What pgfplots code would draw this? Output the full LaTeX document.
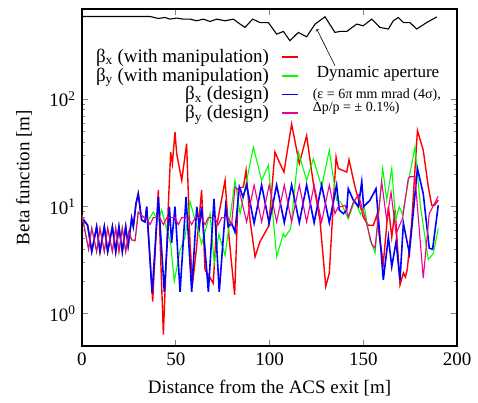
\documentclass[border=0pt]{standalone}
\usepackage{fontspec}
\setmainfont{Liberation Serif}
\usepackage{pgfplots}
\pgfplotsset{compat=1.18}

\begin{document}
\fontsize{19}{22}\selectfont
\begin{tikzpicture}
\useasboundingbox (-82pt,-56pt) rectangle (396pt,346pt);
\begin{axis}[
    at={(0,0)}, anchor=south west,
    scale only axis,
    width=375pt, height=337pt,
    ymode=log,
    xmin=0, xmax=200, ymin=0.5, ymax=700,
    xtick={0,50,100,150,200},
    xticklabels={0,50,100,150,200},
    ytick={1,10,100},
    yticklabels={10\textsuperscript{0},10\textsuperscript{1},10\textsuperscript{2}},
    tick align=inside,
    major tick length=6pt, minor tick length=3pt,
    axis line style={line width=1.1pt},
    major tick style={line width=0.8pt},
    minor tick style={line width=0.8pt},
    every tick label/.append style={font=\fontsize{19}{19}\selectfont},
    xlabel={Distance from the ACS exit [m]},
    ylabel={Beta function [m]},
    xlabel style={at={(axis description cs:0.5,-0.125)}, anchor=center, font=\fontsize{19}{19}\selectfont},
    ylabel style={at={(axis description cs:-0.155,0.5)}, anchor=center, font=\fontsize{19}{19}\selectfont},
    legend plot pos=right,
    legend cell align=right,
    legend image code/.code={\draw[#1, line width=1.5pt] (0pt,0pt) -- (16pt,0pt);},
    legend style={at={(0.578,0.888)}, anchor=north east, draw=none, fill=none,
        font=\fontsize{19}{19}\selectfont, row sep=-1.5pt, column sep=10pt, inner sep=0pt},
]
% beta_x with manipulation
\addplot[red, line width=1.4pt] coordinates {
(0,7.6)(0.7,7.6)(3.0,6.7)(5.2,3.8)(7.8,6.5)(9.6,3.8)(11.9,6.5)(13.7,3.8)(16.2,6.5)
(18.0,3.8)(19.7,6.5)(21.5,3.8)(23.3,6.5)(24.6,4.3)(26.5,7.8)(27.4,6.5)(28.8,10.7)
(30.0,13.2)(31.8,7.5)(33.6,7.2)(34.5,10)(37.7,1.3)(40.7,14.3)(43.4,0.64)(46.0,10)
(47.3,32.3)(48.2,25.2)(49.6,49.6)(50.5,31.2)(53.2,17.6)(55.8,38.7)(57.6,4.54)(59.0,1.93)
(61.0,4.0)(63.8,14.3)(65.6,2.57)(67.4,2.3)(70.0,1.93)(71.8,6.5)(76.3,17.6)(78.5,5.0)
(81.4,1.5)(83.4,14.7)(86.1,15.3)(87.5,21.8)(89.6,7.5)(92.3,3.4)(94.9,4.7)(99.4,6.5)
(100.5,10)(102.9,32.3)(105.6,25.2)(107.7,21)(111.8,59)(115.9,25.2)(119.8,46)(123.4,16.4)
(126.9,7.5)(130.0,1.8)(131.9,2.39)(133.7,8.6)(135.5,29)(136.7,22.7)(141.2,21)(142.4,27.4)
(145.6,15.3)(150.0,8.0)(152.7,6.7)(155.4,6.7)(157.2,8.3)(158.6,5.24)(160.7,2.96)(163.4,10)
(165.2,5.2)(167.0,9.3)(169.6,1.86)(171.4,2.4)(172.5,2.2)(173.5,2.6)(175.8,7.0)(178.9,51.5)
(182.0,33.6)(184.7,15.3)(186.5,10.3)(188.0,10.3)(190.0,11.5)
};
\addlegendentry{β\textsubscript{x} (with manipulation)}
% beta_y with manipulation
\addplot[green, line width=1.1pt] coordinates {
(0,8.3)(3.5,4.0)(5.2,6.3)(7.8,3.8)(9.6,6.3)(11.9,3.8)(13.7,6.3)(16.2,3.8)(18.0,6.3)
(19.7,3.8)(21.5,6.3)(23.3,3.8)(25.0,5.8)(26.5,4.9)(28.3,4.8)(30.0,8.9)(32.7,8.0)
(35.4,7.5)(38.0,8.9)(40.5,7.5)(42.5,9.3)(44.8,6.5)(47.3,4.5)(49.2,2.0)(52.3,3.9)
(55.0,5.24)(57.6,11.2)(60.3,7.5)(63.8,4.5)(68.3,8.6)(70.5,3.0)(73.0,5.5)(76.3,3.5)
(81.6,17.6)(84.3,8.6)(91.4,36)(95.8,17.6)(99.4,24.3)(103.8,3.4)(107.4,5.6)(108.3,5.2)
(111.3,6.25)(115.4,32.3)(119.8,17.6)(123.4,28)(127.8,15.3)(131.9,33.6)(135.8,11.5)(138.0,11)
(142.0,7.7)(145.6,11.5)(148.5,8.5)(150.5,10)(153.6,4.9)(156.3,3.7)(160.4,22.7)(162.5,11.5)
(165.2,22.7)(167.3,7.5)(169.2,10)(171.0,8.5)(174.0,17.1)(177.6,36)(180.5,10)(184.7,3.2)
(187.4,3.67)(190.0,6.25)
};
\addlegendentry{β\textsubscript{y} (with manipulation)}
% beta_x design
\addplot[blue, line width=1.6pt] coordinates {
(0,7.6)(0.7,7.6)(3.0,6.7)(5.2,3.8)(7.8,6.5)(9.6,3.8)(11.9,6.5)(13.7,3.8)(16.2,6.5)
(18.0,3.8)(19.7,6.5)(21.5,3.8)(23.3,6.5)(24.6,4.3)(26.5,7.8)(27.4,6.5)(28.8,10.7)
(30.0,13.2)(31.8,7.5)(33.6,7.2)(34.5,10)(37.4,1.56)(40.7,12.3)(43.9,1.6)(46.6,10)
(47.8,4.6)(49.6,10)(52.3,1.6)(55.5,12.3)(58.5,1.6)(61.2,10)(62.6,6.5)(63.8,10)
(67.4,1.6)(70.4,11.8)(73.2,1.6)(76.6,10)(78.0,6.5)(79.8,7.0)(81.6,5.8)(83.9,15.3)
(85.9,12.3)(87.8,15.9)(91.8,7.0)(95.8,15.9)(99.8,7.0)(103.8,15.9)(107.9,7.1)(111.8,15.9)
(115.9,7.1)(119.8,15.9)(123.8,7.1)(127.8,15.9)(131.9,7.1)(135.8,15.9)(137.2,9.3)(139.4,8.6)
(141.2,9.3)(142.0,14.7)(144.7,11.5)(147.4,10)(149.2,17.1)(150.2,10)(151.8,10.7)(153.6,11.5)
(156.8,14.7)(158.6,6.0)(160.7,2.07)(163.4,5.2)(165.2,2.75)(167.5,4.7)(169.6,2.07)(171.4,7.0)
(174.6,3.67)(178.9,22.7)(182.0,13.2)(185.2,4.1)(187.0,4.0)(190.0,10.3)
};
\addlegendentry{β\textsubscript{x} (design)}
% beta_y design
\addplot[magenta, line width=1.1pt] coordinates {
(0,8.3)(3.5,4.0)(5.2,6.3)(7.8,3.8)(9.6,6.3)(11.9,3.8)(13.7,6.3)(16.2,3.8)(18.0,6.3)
(19.7,3.8)(21.5,6.3)(23.3,3.8)(25.0,5.8)(26.5,4.9)(28.3,4.8)(30.0,8.9)(32.7,8.0)
(34.5,7.8)(36.3,6.8)(38.0,7.9)(41.5,7.9)(43.4,6.8)(45.2,7.9)(49.5,7.9)(51.4,6.8)
(53.2,7.9)(56.6,7.9)(58.5,6.8)(60.3,7.9)(63.7,7.9)(65.6,6.8)(67.4,7.9)(70.8,7.9)
(72.7,6.8)(74.5,7.9)(77.9,7.9)(79.8,6.8)(81.6,15.3)(83.9,14.0)(87.8,7.2)(91.8,15.9)
(95.8,7.2)(99.8,15.9)(103.8,7.2)(107.9,15.9)(111.8,7.2)(115.9,15.9)(119.8,7.2)(123.8,15.9)
(127.8,7.2)(131.9,15.9)(134.9,8.6)(136.7,10)(138.5,10)(140.3,10.3)(142.0,8.0)(144.7,11)
(147.4,12.8)(150.5,8.5)(154.5,4.5)(156.3,4.1)(159.8,17.1)(162.5,7.5)(164.8,13.7)(167.5,5.6)
(171.0,7.8)(174.0,18.3)(174.9,19)(177.6,19)(182.0,2.15)(185.2,8.6)(190.0,12.5)
};
\addlegendentry{β\textsubscript{y} (design)}
% dynamic aperture
\addplot[black, line width=1.1pt, forget plot] coordinates {
(0,596)(36.3,596)(40.7,571)(44.3,583)(46.9,563)(50.5,576)(54,563)(57.6,563)
(61.2,543)(64.7,563)(68.3,535)(71.8,563)(76.3,543)(80.7,563)(84.3,506)(86.9,471)
(91,563)(94.9,523)(99.4,523)(103.8,408)(107.4,432)(110.9,354)(115.4,423)(119.8,385)
(124.3,506)(129.6,592)(134.9,423)(137.6,432)(141.2,432)(146.5,506)(150,488)(154.5,563)
(158.9,471)(163.4,455)(166,543)(168.7,583)(171.4,523)(174.9,523)(178.5,455)(183.8,523)
(189.2,590)
};
\draw[->, line width=0.6pt] (axis cs:134.9,207) -- (axis cs:125.2,455);
\node[anchor=west, inner sep=0pt, font=\fontsize{17}{17}\selectfont] at (axis cs:125.2,175) {Dynamic aperture};
\node[anchor=west, inner sep=0pt, font=\fontsize{14}{14}\selectfont] at (axis cs:123,109) {(ε = 6π mm mrad (4σ),};
\node[anchor=west, inner sep=0pt, font=\fontsize{14}{14}\selectfont] at (axis cs:123,82.5) {Δp/p = ± 0.1\%)};
\end{axis}
\end{tikzpicture}
\end{document}
